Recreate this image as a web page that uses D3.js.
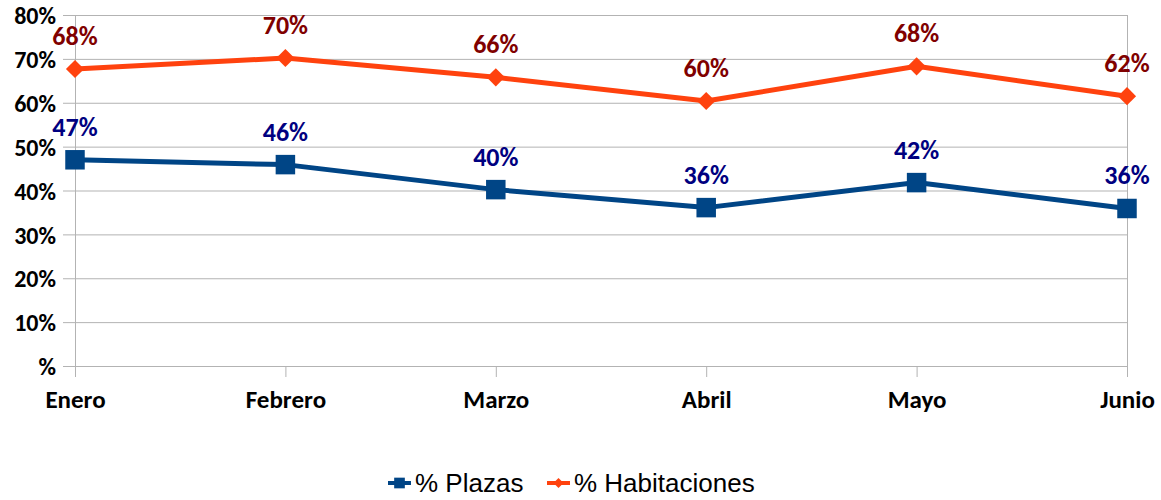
<!DOCTYPE html>
<html>
<head>
<meta charset="utf-8">
<script src="https://cdn.jsdelivr.net/npm/d3@7"></script>
<style>
	body { margin: 0; background: #fff; }
	.axis--y .tick text { font-family: Carlito, Lato, sans-serif; font-weight: bold; font-size: 24px; fill: #000; }
	.axis--x .tick text { font-family: Carlito, Lato, sans-serif; font-weight: bold; font-size: 25px; fill: #000; }
	.lbl { font-family: Carlito, Lato, sans-serif; font-weight: bold; font-size: 26px; }
	.legend text { font-family: "Liberation Sans", Arial, sans-serif; font-size: 26px; fill: #000; }
</style>
</head>
<body>
<svg id="chart" width="1161" height="500"></svg>
<script>
var months = ["Enero", "Febrero", "Marzo", "Abril", "Mayo", "Junio"];
var plazas = [47.0, 45.9, 40.2, 36.1, 41.8, 35.9];
var habitaciones = [67.7, 70.2, 65.8, 60.4, 68.3, 61.5];
var plazasLabels = ["47%", "46%", "40%", "36%", "42%", "36%"];
var habitacionesLabels = ["68%", "70%", "66%", "60%", "68%", "62%"];
var yTicks = [0, 10, 20, 30, 40, 50, 60, 70, 80];

var svg = d3.select("#chart"),
	margin = {top: 15, right: 34, bottom: 134, left: 75},
	width = svg.attr("width") - margin.left - margin.right,
	height = svg.attr("height") - margin.top - margin.bottom,
	g = svg.append("g").attr("transform", "translate(" + margin.left + "," + margin.top + ")");

var x = d3.scalePoint().domain(months).range([0, width]).padding(0);
var y = d3.scaleLinear().domain([0, 80]).range([height, 0]);

// horizontal grid
g.append("g")
	.attr("class", "grid")
	.selectAll("line")
	.data(yTicks)
	.enter().append("line")
	.attr("x1", -12).attr("x2", width)
	.attr("y1", function(d) { return y(d) + 0.5; })
	.attr("y2", function(d) { return y(d) + 0.5; })
	.style("stroke", "#b3b3b3").style("stroke-width", 1);

// left axis and right border
g.append("g")
	.selectAll("line")
	.data([months[0], months[months.length - 1]])
	.enter().append("line")
	.attr("x1", function(d) { return x(d) + 0.5; })
	.attr("x2", function(d) { return x(d) + 0.5; })
	.attr("y1", 0).attr("y2", height)
	.style("stroke", "#b3b3b3").style("stroke-width", 1);

// category ticks below the axis
g.append("g")
	.selectAll("line")
	.data(months)
	.enter().append("line")
	.attr("x1", function(d) { return x(d) + 0.5; })
	.attr("x2", function(d) { return x(d) + 0.5; })
	.attr("y1", height).attr("y2", height + 11)
	.style("stroke", "#b3b3b3").style("stroke-width", 1);

g.append("g")
	.attr("class", "axis axis--y")
	.call(d3.axisLeft(y).tickValues(yTicks).tickSize(0).tickPadding(19)
		.tickFormat(function(d) { return d === 0 ? "%" : d + "%"; }))
	.call(function(a) { a.select(".domain").remove(); })
	.selectAll("text").attr("dy", "0.36em");

g.append("g")
	.attr("class", "axis axis--x")
	.attr("transform", "translate(0," + height + ")")
	.call(d3.axisBottom(x).tickSize(0).tickPadding(24))
	.call(function(a) { a.select(".domain").remove(); });

var series = [
	{name: "% Plazas", values: plazas, labels: plazasLabels, color: "#004586", labelColor: "#000080", symbol: d3.symbolSquare, size: 380},
	{name: "% Habitaciones", values: habitaciones, labels: habitacionesLabels, color: "#ff420e", labelColor: "#800000", symbol: d3.symbolDiamond2 || d3.symbolDiamond, size: 210}
];

var line = d3.line()
	.x(function(d, i) { return x(months[i]); })
	.y(function(d) { return y(d); });

series.forEach(function(s) {
	g.append("path")
		.attr("d", line(s.values))
		.style("fill", "none")
		.style("stroke", s.color)
		.style("stroke-width", 5)
		.style("stroke-linejoin", "round");

	g.append("g").selectAll("path")
		.data(s.values)
		.enter().append("path")
		.attr("transform", function(d, i) { return "translate(" + x(months[i]) + "," + y(d) + ")"; })
		.attr("d", d3.symbol().type(s.symbol).size(s.size))
		.style("fill", s.color);

	g.append("g").selectAll("text")
		.data(s.values)
		.enter().append("text")
		.attr("class", "lbl")
		.attr("x", function(d, i) { return x(months[i]); })
		.attr("y", function(d) { return y(d) - 24; })
		.attr("text-anchor", "middle")
		.style("fill", s.labelColor)
		.text(function(d, i) { return s.labels[i]; });
});

// legend
var legend = svg.append("g").attr("class", "legend").attr("transform", "translate(388,483)");
var offsets = [0, 159];
series.forEach(function(s, i) {
	var lg = legend.append("g").attr("transform", "translate(" + offsets[i] + ",0)");
	lg.append("line").attr("x1", 0).attr("x2", 23).attr("y1", 0).attr("y2", 0)
		.style("stroke", s.color).style("stroke-width", 4);
	lg.append("path").attr("transform", "translate(11.5,0)")
		.attr("d", d3.symbol().type(s.symbol).size(s.size * 0.3))
		.style("fill", s.color);
	lg.append("text").attr("x", 27).attr("y", 9).text(s.name);
});
</script>
</body>
</html>
